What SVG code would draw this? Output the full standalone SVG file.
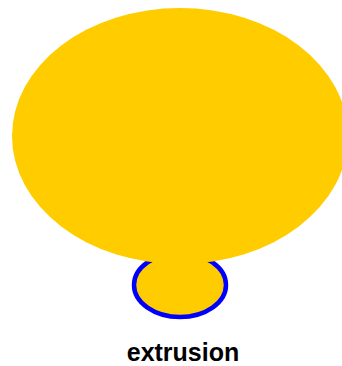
<svg xmlns="http://www.w3.org/2000/svg" width="342" height="366" viewBox="0 0 342 366">
<style>
.label{font-family:"Liberation Sans",Arial,sans-serif;font-weight:bold;font-size:25px;fill:#000}
</style>
<rect width="342" height="366" fill="#fff"/>
<g id="extrusion">
<ellipse cx="180" cy="285" rx="46" ry="32" fill="#ffcc00" stroke="#0000ff" stroke-width="4.5"/>
</g>
<g id="body">
<ellipse cx="180" cy="136" rx="168" ry="128" fill="#ffcc00"/>
</g>
<g id="connectors"/>
<text class="label" x="183" y="361" text-anchor="middle">extrusion</text>
</svg>
